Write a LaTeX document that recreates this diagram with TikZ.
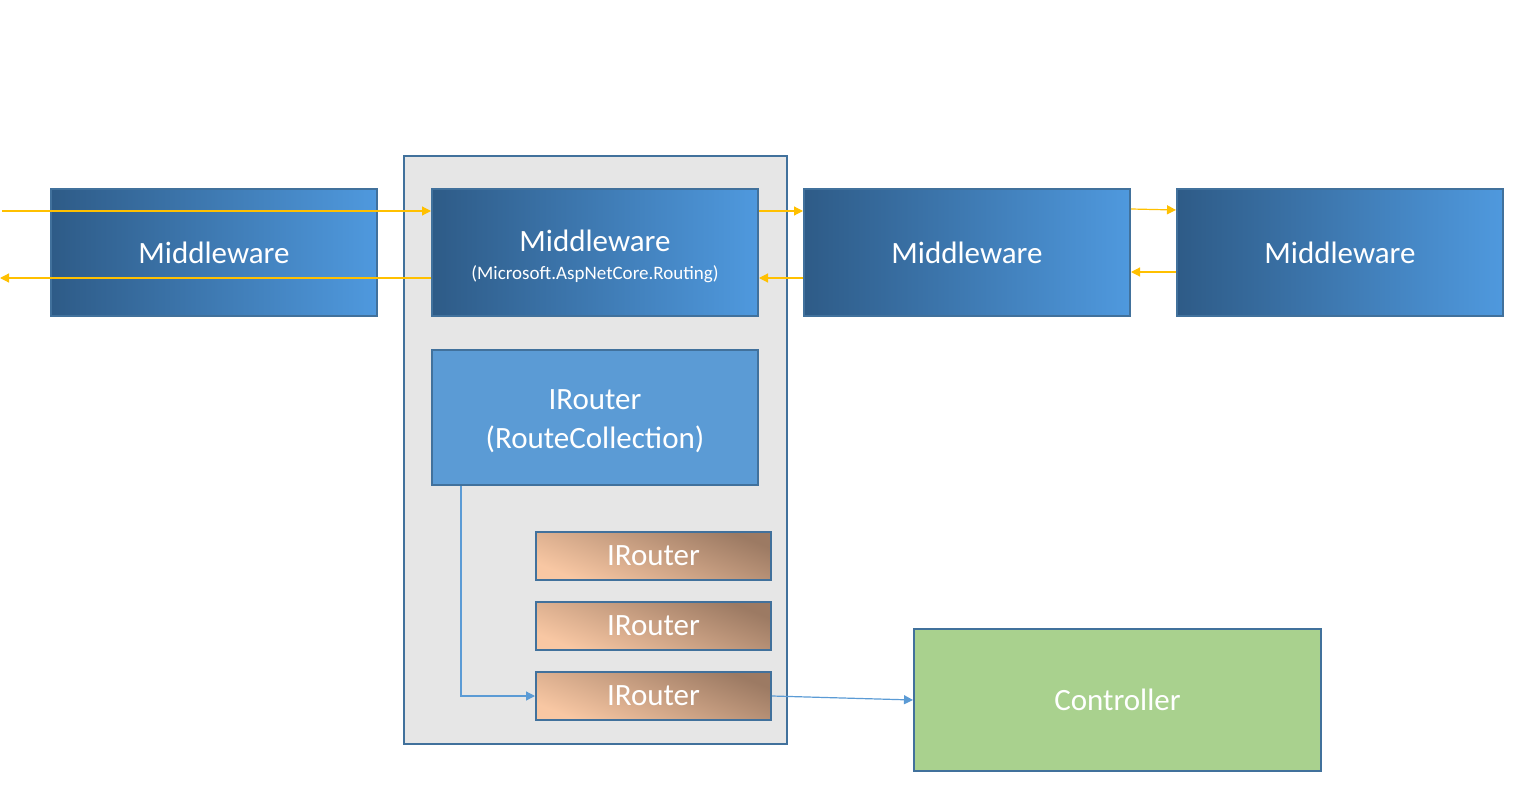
\documentclass[tikz,border=0pt]{standalone}
\usepackage{fontspec}
\setmainfont{Carlito}
\usepackage{tikz}
\usetikzlibrary{positioning,arrows.meta,calc}
\definecolor{mwdark}{HTML}{2E5B87}
\definecolor{mwlight}{HTML}{4F99DE}
\definecolor{edgeblue}{HTML}{41719C}
\definecolor{panelgray}{HTML}{E6E6E6}
\definecolor{routeblue}{HTML}{5B9BD5}
\definecolor{rtlight}{HTML}{F8C7A3}
\definecolor{rtdark}{HTML}{9C7A63}
\definecolor{ctrlgreen}{HTML}{A9D18E}
\definecolor{flowyellow}{HTML}{FFC000}

\begin{document}
\begin{tikzpicture}[x=1pt, y=-1pt, line width=2pt,
    box/.style={draw=edgeblue, text=white, inner sep=0pt, align=center,
      font=\fontsize{31}{38}\selectfont},
    mw/.style={box, minimum width=326, minimum height=127,
      left color=mwdark, right color=mwlight},
    rtr/.style={box, minimum width=235, minimum height=48,
      top color=rtdark, bottom color=rtlight, shading angle=-22},
    flow/.style={draw=flowyellow, line width=1.2pt, -{Triangle[length=9pt,width=9pt]}},
    link/.style={draw=routeblue, line width=1.2pt, -{Triangle[length=9pt,width=9pt]}}]
    \useasboundingbox (0,0) rectangle (1523,802);

    \node[draw=edgeblue, fill=panelgray, minimum width=383, minimum height=588] (panel) at (595.5,450) {};

    \node[mw] (mwa) at (214,252.5) {Middleware};
    \node[mw] (mwr) at (595,252.5) {\rule{0pt}{30pt}Middleware\\[-10pt]{\fontsize{19}{23}\selectfont(Microsoft.AspNetCore.Routing)}};
    \node[mw] (mwc) at (967,252.5) {Middleware};
    \node[mw] (mwd) at (1340,252.5) {Middleware};

    \node[box, fill=routeblue, minimum width=326, minimum height=135] (coll) at (595,417.5) {\rule{0pt}{27pt}IRouter\\[1pt](RouteCollection)};
    \node[rtr] (rta) at (653.5,555.5) {IRouter};
    \node[rtr] (rtb) at (653.5,626) {IRouter};
    \node[rtr] (rtc) at (653.5,696) {IRouter};

    \node[box, fill=ctrlgreen, minimum width=407, minimum height=142] (ctrl) at (1117.5,700) {Controller};

    \coordinate (in) at (2,211);
    \coordinate (out) at (0,278);
    \draw[flow] (in) -- (in -| mwr.west);
    \draw[flow] (out -| mwr.west) -- (out);
    \draw[flow] (mwr.east |- in) -- (mwc.west |- in);
    \draw[flow] (mwc.west |- out) -- (mwr.east |- out);
    \draw[flow] ($(mwc.north east)+(0,21)$) -- ($(mwd.north west)+(0,22)$);
    \draw[flow] ($(mwd.north west)+(0,84)$) -- ($(mwc.north east)+(0,84)$);

    \draw[link] ([xshift=30]coll.south west) |- (rtc.west);
    \draw[link] (rtc.east) -- (ctrl.west);
\end{tikzpicture}
\end{document}
